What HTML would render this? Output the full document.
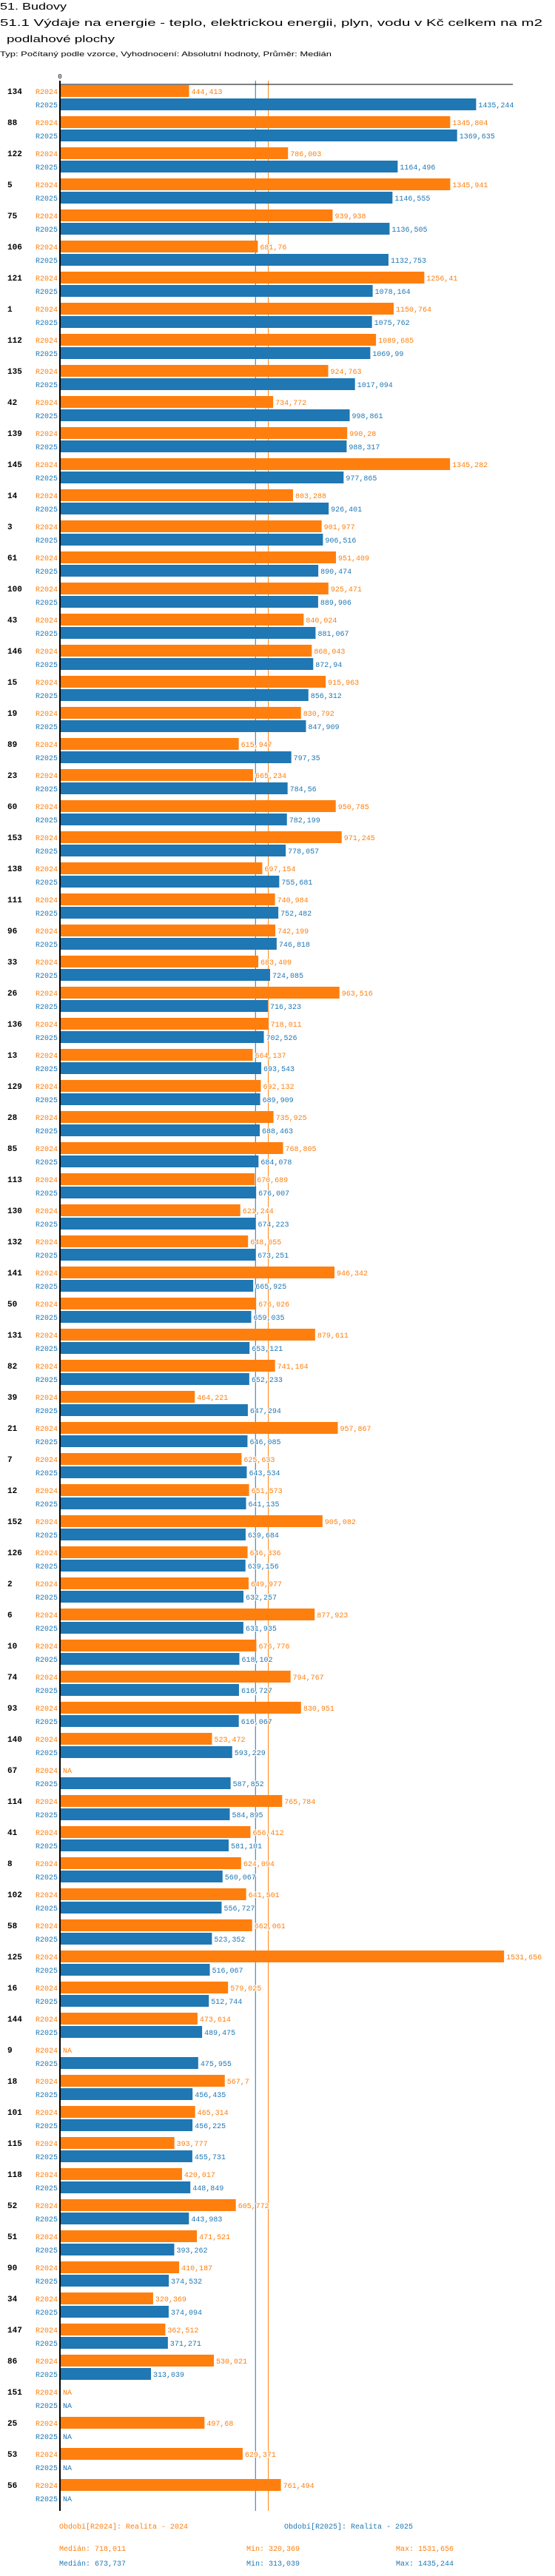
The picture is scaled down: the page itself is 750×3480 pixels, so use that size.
<!DOCTYPE html>
<html><head><meta charset="utf-8">
<style>
html,body{margin:0;padding:0;background:#fff;}
svg{display:block;}
text{font-family:"Liberation Mono",monospace;}
</style></head>
<body>
<svg id="chart" width="750" height="3480" viewBox="0 0 750 3480" xmlns="http://www.w3.org/2000/svg">
<text x="0" y="13" font-size="13" textLength="90" lengthAdjust="spacingAndGlyphs" style="font-family:'Liberation Sans',sans-serif">51. Budovy</text>
<text x="0" y="35" font-size="13" textLength="733" lengthAdjust="spacingAndGlyphs" style="font-family:'Liberation Sans',sans-serif">51.1 Výdaje na energie - teplo, elektrickou energii, plyn, vodu v Kč celkem na m2</text>
<text x="9" y="57" font-size="13" textLength="146" lengthAdjust="spacingAndGlyphs" style="font-family:'Liberation Sans',sans-serif">podlahové plochy</text>
<text x="0" y="76" font-size="9" textLength="448" lengthAdjust="spacingAndGlyphs" style="font-family:'Liberation Sans',sans-serif">Typ: Počítaný podle vzorce, Vyhodnocení: Absolutní hodnoty, Průměr: Medián</text>
<g id="plot"></g>
<g>
<text x="80" y="3416" font-size="10" fill="#ff7f0e">Období[R2024]: Realita - 2024</text>
<text x="384" y="3416" font-size="10" fill="#1f77b4">Období[R2025]: Realita - 2025</text>
<text x="80" y="3446" font-size="10" fill="#ff7f0e">Medián: 718,011</text>
<text x="333" y="3446" font-size="10" fill="#ff7f0e">Min: 320,369</text>
<text x="535" y="3446" font-size="10" fill="#ff7f0e">Max: 1531,656</text>
<text x="80" y="3466" font-size="10" fill="#1f77b4">Medián: 673,737</text>
<text x="333" y="3466" font-size="10" fill="#1f77b4">Min: 313,039</text>
<text x="535" y="3466" font-size="10" fill="#1f77b4">Max: 1435,244</text>
</g>
</svg>
<script>
const categories = ["134","88","122","5","75","106","121","1","112","135","42","139","145","14","3","61","100","43","146","15","19","89","23","60","153","138","111","96","33","26","136","13","129","28","85","113","130","132","141","50","131","82","39","21","7","12","152","126","2","6","10","74","93","140","67","114","41","8","102","58","125","16","144","9","18","101","115","118","52","51","90","34","147","86","151","25","53","56"];
const values2024 = [444.413,1345.804,786.003,1345.941,939.938,681.76,1256.41,1150.764,1089.685,924.763,734.772,990.28,1345.282,803.288,901.977,951.409,925.471,840.024,868.043,915.963,830.792,615.947,665.234,950.785,971.245,697.154,740.984,742.199,683.409,963.516,718.011,664.137,692.132,735.925,768.805,670.689,621.244,648.055,946.342,676.026,879.611,741.164,464.221,957.867,625.633,651.573,905.082,646.336,649.977,877.923,676.776,794.767,830.951,523.472,null,765.784,656.412,624.094,641.501,662.061,1531.656,579.025,473.614,null,567.7,465.314,393.777,420.017,605.772,471.521,410.187,320.369,362.512,530.021,null,497.68,629.371,761.494];
const values2025 = [1435.244,1369.635,1164.496,1146.555,1136.505,1132.753,1078.164,1075.762,1069.99,1017.094,998.861,988.317,977.865,926.401,906.516,890.474,889.906,881.067,872.94,856.312,847.909,797.35,784.56,782.199,778.057,755.681,752.482,746.818,724.085,716.323,702.526,693.543,689.909,688.463,684.078,676.007,674.223,673.251,665.925,659.035,653.121,652.233,647.294,646.085,643.534,641.135,639.684,639.156,632.257,631.935,618.102,616.727,616.067,593.229,587.852,584.895,581.101,560.067,556.727,523.352,516.067,512.744,489.475,475.955,456.435,456.225,455.731,448.849,443.983,393.262,374.532,374.094,371.271,313.039,null,null,null,null];
const medians = [718.011, 673.737];

const NS = "http://www.w3.org/2000/svg";
const X0 = 81.5, SCALE = 0.3915, TOP = 115, GROUP = 42, ROW = 18, BAR_H = 16;
const xScale = v => X0 + v * SCALE;
const yRow = (g, s) => TOP + g * GROUP + s * ROW;
const plot = document.getElementById('plot');
function mk(tag, attrs, txt) {
  const e = document.createElementNS(NS, tag);
  for (const k in attrs) e.setAttribute(k, attrs[k]);
  if (txt !== undefined) e.textContent = txt;
  plot.appendChild(e);
  return e;
}
const colors = ["#ff7f0e", "#1f77b4"];
const series = [values2024, values2025];
const names = ["R2024", "R2025"];
const bottom = yRow(categories.length - 1, 1) + BAR_H + 9;

// median lines
medians.forEach((m, i) => {
  const l = mk('line', {x1: xScale(m), x2: xScale(m), y1: 109, y2: bottom, stroke: colors[i], 'stroke-width': 1});
  
  
});

categories.forEach((c, g) => {
  const gl = mk('text', {x: 10, y: yRow(g, 0) + 12, 'font-size': 11, 'font-weight': 'bold', fill: '#000'}, c);
  
  
  for (let s = 0; s < 2; s++) {
    const y = yRow(g, s);
    const sl = mk('text', {x: 78, y: y + 12, 'font-size': 10, fill: colors[s], 'text-anchor': 'end'}, names[s]);
    
    
    const v = series[s][g];
    if (v === null) {
      const na = mk('text', {x: 85, y: y + 12, 'font-size': 10, fill: colors[s]}, 'NA');
      
      
    } else {
      const r = mk('rect', {x: X0, y: y, width: xScale(v) - X0, height: BAR_H, fill: colors[s]});
      
      
      const t = mk('text', {x: xScale(v) + 3, y: y + 12, 'font-size': 10, fill: colors[s], stroke: '#fff', 'stroke-width': 2, 'paint-order': 'stroke'}, String(v).replace('.', ','));
      
      
    }
  }
});

// axes
const ax = mk('line', {x1: 81, x2: 693, y1: 114, y2: 114, stroke: '#000', 'stroke-width': 1});


const ay = mk('line', {x1: 81, x2: 81, y1: 109, y2: bottom, stroke: '#000', 'stroke-width': 2});


const zl = mk('text', {x: 81, y: 106, 'font-size': 9, 'text-anchor': 'middle', fill: '#000'}, '0');


</script>
</body></html>
